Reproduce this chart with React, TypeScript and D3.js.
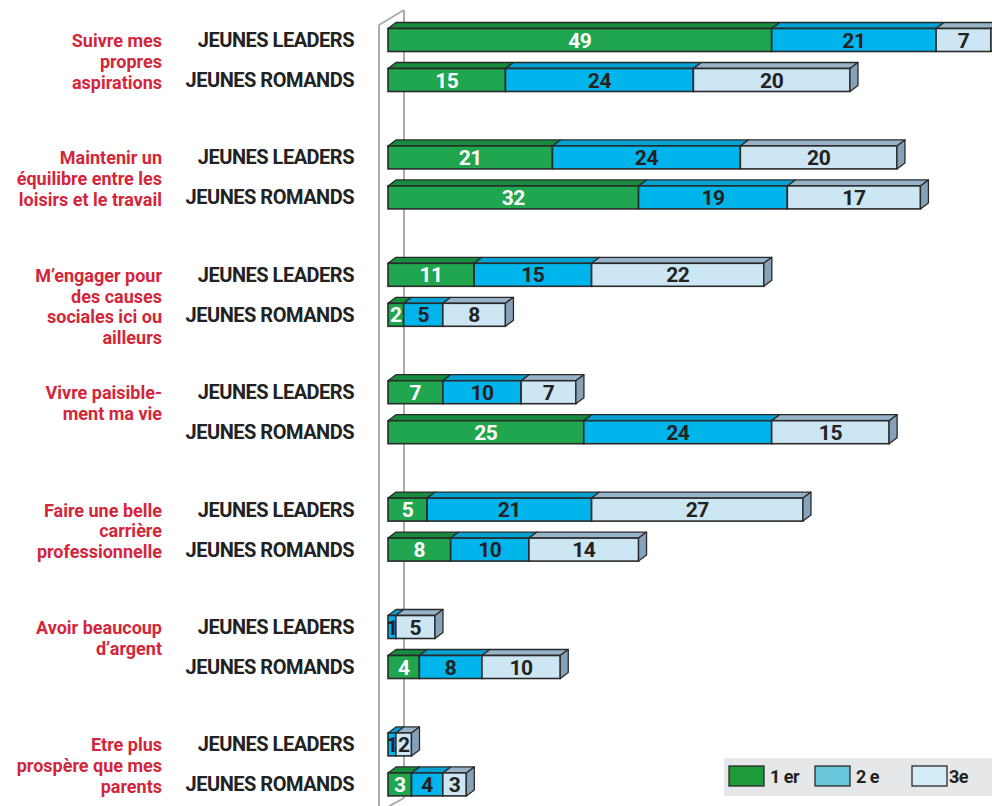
import React from "react";
import * as d3 from "d3";

const categories: string[][] = [
  ["Suivre mes", "propres", "aspirations"],
  ["Maintenir un", "équilibre entre les", "loisirs et le travail"],
  ["M’engager pour", "des causes", "sociales ici ou", "ailleurs"],
  ["Vivre paisible-", "ment ma vie"],
  ["Faire une belle", "carrière", "professionnelle"],
  ["Avoir beaucoup", "d’argent"],
  ["Etre plus", "prospère que mes", "parents"],
];
const groups = ["JEUNES LEADERS", "JEUNES ROMANDS"];
const rankNames = ["1 er", "2 e", "3e"];

const leaders1st = [49, 21, 11, 7, 5, 0, 0];
const leaders2nd = [21, 24, 15, 10, 21, 1, 1];
const leaders3rd = [7, 20, 22, 7, 27, 5, 2];
const romands1st = [15, 32, 2, 25, 8, 4, 3];
const romands2nd = [24, 19, 5, 24, 10, 8, 4];
const romands3rd = [20, 17, 8, 15, 14, 10, 3];

const frontColors = ["#1fa64e", "#00b5eb", "#cde6f3"];
const topColors = ["#178c3f", "#04a2d3", "#98b2c7"];
const sideColor = "#87a2b8";
const legendColors = ["#1e9b39", "#67c6da", "#d4ebf8"];
const textColors = ["#ffffff", "#222222", "#222222"];
const stroke = "#2a2a2a";

const FONT = "Roboto, 'DejaVu Sans', sans-serif";

export default function App() {
  const W = 992;
  const H = 806;
  const x = d3.scaleLinear().domain([0, 77]).range([388, 388 + 77 * 7.83]);
  const y = d3
    .scaleLinear()
    .domain([0, 6])
    .range([40, 40 + 6 * 117.4]);
  const rowOffset = 40;
  const barH = 23;
  const dx = 8;
  const dy = 6;

  const rows: { cat: number; g: number; vals: number[] }[] = [];
  categories.forEach((_, i) => {
    rows.push({ cat: i, g: 0, vals: [leaders1st[i], leaders2nd[i], leaders3rd[i]] });
    rows.push({ cat: i, g: 1, vals: [romands1st[i], romands2nd[i], romands3rd[i]] });
  });

  const stack = d3.stack<number[]>().keys(["0", "1", "2"]).value((d, k) => d[+k]);

  return (
    <svg
      width={W}
      height={H}
      style={{ position: "absolute", left: 0, top: 0, background: "#fff" }}
      fontFamily={FONT}
    >
      {/* wall */}
      <g stroke="#a9abae" strokeWidth={2} fill="none">
        <line x1={379} y1={25} x2={379} y2={H} />
        <line x1={379} y1={25} x2={404} y2={10} />
        <line x1={404} y1={10} x2={404} y2={798} />
        <line x1={404} y1={798} x2={386} y2={808} />
      </g>

      {categories.map((lines, i) =>
        lines.map((l, j) => (
          <text
            key={"c" + i + "-" + j}
            x={162}
            y={y(i) + 7 + j * 20.8}
            textAnchor="end"
            fill="#d3263a"
            fontSize={18}
            fontWeight={700}
            letterSpacing={0}
          >
            {l}
          </text>
        ))
      )}

      {rows.map((r, ri) => {
        const cy = y(r.cat) + r.g * rowOffset;
        const yT = cy - barH / 2;
        const yB = cy + barH / 2;
        const s = stack([r.vals]);
        const segs = s
          .map((layer, k) => ({ k, x0: layer[0][0], x1: layer[0][1], v: r.vals[k] }))
          .filter((d) => d.v > 0);
        const end = d3.max(segs, (d) => d.x1) as number;
        const xe = x(end);
        return (
          <g key={"r" + ri}>
            <text
              x={354}
              y={cy + 7}
              textAnchor="end"
              fill="#222"
              fontSize={20}
              fontWeight={700}
              letterSpacing={-0.5}
            >
              {groups[r.g]}
            </text>
            {segs.map((d) => (
              <g key={d.k}>
                <polygon
                  points={`${x(d.x0)},${yT} ${x(d.x0) + dx},${yT - dy} ${x(d.x1) + dx},${yT - dy} ${x(d.x1)},${yT}`}
                  fill={topColors[d.k]}
                  stroke={stroke}
                  strokeWidth={1.3}
                  strokeLinejoin="round"
                />
                <rect
                  x={x(d.x0)}
                  y={yT}
                  width={x(d.x1) - x(d.x0)}
                  height={barH}
                  fill={frontColors[d.k]}
                  stroke={stroke}
                  strokeWidth={1.6}
                />
              </g>
            ))}
            <polygon
              points={`${xe},${yT} ${xe + dx},${yT - dy} ${xe + dx},${yB - dy} ${xe},${yB}`}
              fill={sideColor}
              stroke={stroke}
              strokeWidth={1.3}
              strokeLinejoin="round"
            />
            {segs.map((d) => (
              <text
                key={"t" + d.k}
                x={(x(d.x0) + x(d.x1)) / 2}
                y={cy + 7.5}
                textAnchor="middle"
                fill={textColors[d.k]}
                fontSize={21}
                fontWeight={700}
                letterSpacing={-0.5}
              >
                {d.v}
              </text>
            ))}
          </g>
        );
      })}

      {/* legend */}
      <rect x={724} y={758} width={268} height={38} fill="#e6e7e8" />
      {rankNames.map((n, i) => {
        const lx = [729, 815, 912][i];
        return (
          <g key={"l" + i}>
            <rect
              x={lx}
              y={766}
              width={35}
              height={20}
              fill={legendColors[i]}
              stroke={stroke}
              strokeWidth={1.3}
            />
            <text
              x={lx + 41 + (i === 2 ? -4 : 0)}
              y={783}
              fill="#222"
              fontSize={18}
              fontWeight={700}
              letterSpacing={-0.5}
            >
              {n}
            </text>
          </g>
        );
      })}
    </svg>
  );
}
